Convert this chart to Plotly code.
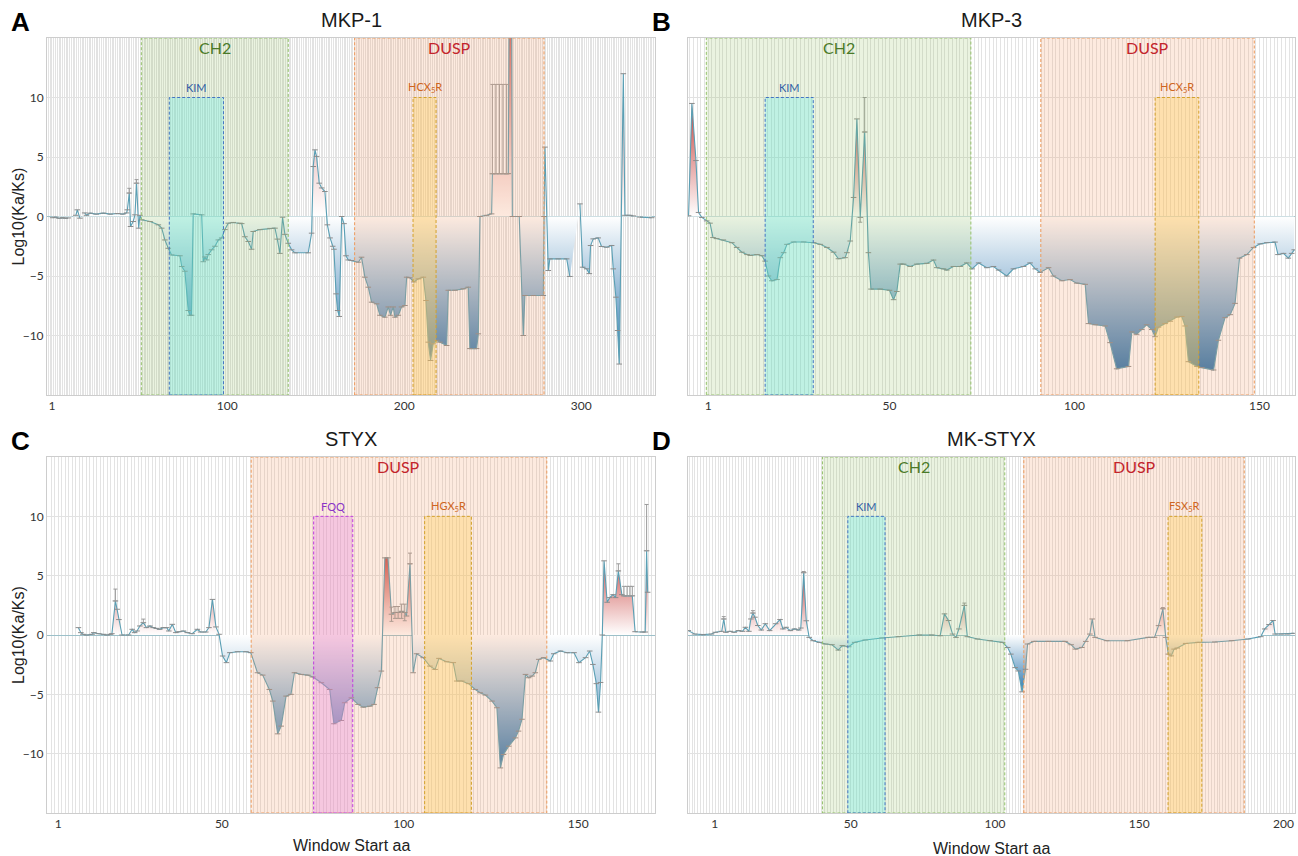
import plotly.graph_objects as go

# ---------------- data (window start position, log10(Ka/Ks)) ----------------
MKP1 = [(1.4,-0.1),(3,-0.05),(5,-0.15),(7,-0.1),(8.5,-0.15),(10.2,-0.12),(None,None),
        (14.5,0.1),(15.3,0.56),(16.8,-0.14),(None,None),
        (19.5,0.3),(20.5,0.1),(22.5,0.28),(26,0.2),(30,0.28),(34,0.2),(38,0.25),(41,0.2),(43.2,0.3),
        (43.6,0.56),(44.7,1.97),(45.4,-0.84),(46.9,-0.42),(47.9,0.14),(48.8,2.8),(50,-0.98),(50.7,0.1),
        (51.7,-0.28),(56.4,-0.42),(61.1,-0.7),(63,-0.98),(64.8,-1.97),(66.7,-2.67),(68.6,-3.23),(73.3,-3.3),
        (74.3,-4.2),(76.1,-4.6),(78,-7.9),(79,-8.3),(79.9,-8.3),(80.8,0.22),(85.6,0.14),(86.5,-3.8),
        (87.4,-3.4),(88.4,-3.65),(89.3,-3.2),(91.2,-2.8),(93.1,-2.5),(95,-1.97),(96.9,-1.8),(98.7,-1.1),
        (100.6,-0.56),(103.4,-0.5),(107.2,-0.56),(108.2,-0.6),(110,-1.7),(111.9,-2.1),(113.8,-2.75),
        (114.7,-1.26),(118.5,-1.1),(124.2,-1.0),(127,-0.98),(128.3,-1.9),(129.8,-3.1),(131.3,-0.06),
        (132.6,-1.5),(134.5,-2.25),(136.4,-2.8),(138.3,-3.05),(145.8,-3.05),(147.7,-1.4),(148.6,4.2),
        (149.6,5.6),(150.5,5.05),(152,2.8),(153.4,2.4),(155.2,2.1),(156.6,-0.7),(158.1,-1.8),(159.6,-2.5),
        (160.3,-2.75),(161.5,-6.5),(162.4,-7.9),(163.3,-8.4),(164.7,0),(166,-0.6),(167.1,-3.3),(168.4,-3.65),
        (170.3,-3.7),(174.1,-3.84),(175.9,-3.42),(177.8,-5.1),(179.7,-5.94),(181.6,-7.2),(184.4,-7.34),
        (186.3,-8.3),(189.1,-8.46),(191,-7.6),(192.3,-8.3),(193.8,-7.6),(194.8,-8.46),(196.7,-8.3),
        (198.5,-7.6),(200.4,-7.48),(201.4,-5.1),(203.2,-5.15),(205.5,-5.5),(208,-5.24),(210.8,-5.1),
        (212.3,-7.06),(213.6,-10.56),(214.9,-12.1),(216.4,-10.7),(218.3,-10.4),(220.2,-10.56),(224,-10.84),
        (224.9,-6.2),(228.7,-6.2),(233.4,-6.08),(236.2,-5.94),(237.1,-11.1),(240.9,-11.1),(241.9,-9.86),
        (242.8,0),(246.6,0.1),(249.4,0.22),(249.8,3.59),(252,3.6),(254,3.6),(256,3.6),(257.9,3.59),
        (258.8,3.6),(259.4,20),(260.6,20),(261.1,0),(265,0),(267.3,-10),(268.2,-6.64),(273,-6.64),
        (278.6,-6.64),(279,0),(279.5,5.83),(281.4,-4.54),(282.3,-3.56),(287,-3.56),(291.8,-3.56),
        (293.6,-5.04),(None,None),
        (299.3,1.06),(300.8,-4.26),(303.1,-4.4),(304.6,-4.8),(305.3,-2.44),(306.8,-1.88),(309.6,-1.8),
        (311.5,-2.52),(314.4,-2.58),(317.2,-2.44),(318.1,-4.4),(319.6,-6.78),(320.6,-9.58),(321.5,-12.4),
        (323.8,12.0),(324.7,0.1),(327.5,0.1),(329.4,0.05),(None,None),(333.2,-0.05),(339.8,-0.1)]

MKP3 = [(-4.3,0.06),(-3.4,9.5),(-2.3,4.7),(-1.6,0.34),(-0.7,-0.08),(0.6,-0.37),(1.5,-0.56),(2.3,-1.77),
        (3.3,-1.86),(5.1,-1.97),(7.4,-2.2),(8.7,-2.6),(10.1,-3.0),(11.5,-3.2),(12.4,-3.27),(14.2,-3.2),
        (15.5,-3.3),(16.4,-3.75),(17.3,-5.0),(18.2,-5.4),(19.6,-5.3),(20.5,-3.46),(21.4,-3.04),(22.3,-2.34),
        (24.1,-2.14),(26.8,-2.14),(29.5,-2.2),(31.3,-2.34),(33.1,-2.6),(34.9,-3.0),(36.2,-3.55),(38,-3.46),
        (38.5,-3.04),(39.4,-2.06),(40.3,1.6),(41.2,8.2),(42.1,-0.08),(43.3,7.1),(44.3,-3.04),(45,-6.1),
        (47.5,-6.1),(50,-6.2),(51.1,-6.99),(52,-6.3),(52.9,-4.0),(53.8,-4.0),(55.6,-4.2),(57.4,-4.0),
        (60.1,-3.94),(61.9,-3.66),(62.8,-4.3),(64.6,-4.4),(65.5,-4.5),(67.3,-4.2),(69.1,-4.2),(70.9,-3.9),
        (72.3,-4.4),(74.1,-3.9),(76.3,-4.3),(78.1,-4.2),(79.5,-4.5),(81.7,-5.0),(83.5,-4.4),(86.2,-4.2),
        (88,-3.9),(89.4,-4.4),(90.7,-4.7),(93,-4.3),(94.3,-5.0),(96.6,-5.4),(98.8,-5.3),(100.6,-5.6),
        (102.9,-5.7),(103.8,-9.0),(105.6,-9.1),(108.3,-9.2),(109.6,-10.6),(111.4,-12.8),(114.6,-12.6),
        (115.5,-9.7),(116.8,-9.9),(118.2,-9.5),(119.5,-9.1),(120.9,-9.5),(121.8,-10.1),(122.7,-9.3),
        (124.5,-9.0),(125.9,-8.8),(127.7,-8.45),(129,-8.4),(129.9,-9.2),(130.8,-12.2),(133.1,-12.6),
        (134.4,-12.7),(137.6,-12.9),(138.9,-10.4),(140.7,-8.5),(142.1,-8.25),(143.4,-7.3),(144.6,-3.5),
        (146.6,-3.2),(148.4,-2.6),(150.2,-2.3),(152,-2.2),(154.2,-2.15),(155,-3.2),(156.5,-3.1),
        (157.8,-3.5),(158.7,-3.1),(159.4,-2.8)]

STYX = [(6.8,0.62),(7.5,0.2),(8.1,0.06),(9.2,0.0),(10.7,0.06),(11.2,0.2),(12.6,0.11),(14,0.06),(15,0.0),
        (16,0.06),(16.4,0.11),(17.4,2.87),(17.9,2.17),(18.4,1.3),(19.3,0.0),(21.2,0.0),(22.2,0.48),
        (22.9,0.2),(23.6,0.34),(24.4,0.76),(25.4,1.04),(26.3,0.62),(27.3,0.76),(28.2,0.62),(29.2,0.56),
        (30.1,0.48),(31.1,0.62),(32.1,0.62),(32.7,0.34),(33.7,0.9),(34.7,0.2),(35.6,0.28),(36.9,0.34),
        (38,0.2),(39.4,0.11),(40.9,0.48),(41.8,0.25),(43.3,0.25),(44.2,0.62),(45.2,3.0),(46.2,0.68),
        (47.1,0.06),(48.1,-1.77),(49.2,-2.33),(50.2,-1.49),(52.4,-1.41),(54.8,-1.41),(56.2,-1.49),
        (58.1,-3.18),(59.6,-3.38),(61.5,-4.59),(62.5,-5.57),(63.9,-8.33),(64.9,-7.68),(66.3,-5.15),
        (67.7,-5.0),(68.7,-3.18),(70.6,-3.32),(72.5,-3.38),(74,-3.54),(76.4,-4.02),(78.8,-4.59),(80,-7.48),
        (82.1,-7.2),(83.1,-5.71),(85,-5.29),(86.9,-5.85),(88.4,-6.08),(90.3,-6.0),(91.5,-5.85),(92.5,-4.44),
        (93.6,-3.04),(94.6,6.5),(95.5,6.5),(96.5,1.75),(97.5,1.9),(98.4,1.9),(99.4,2.0),(100.3,1.9),
        (100.8,1.6),(101.8,6.0),(102.7,-3.18),(103.7,-1.58),(105.6,-1.91),(107.5,-2.62),(109,-2.9),
        (110.1,-1.97),(112.3,-2.25),(114.2,-2.33),(115.2,-3.88),(116.6,-3.88),(118.6,-4.1),(120.5,-4.59),
        (121.9,-4.87),(123.4,-5.06),(125.3,-5.57),(126.7,-6.13),(127.7,-11.2),(128.6,-10.07),(130.1,-9.37),
        (132,-8.67),(132.9,-8.1),(133.9,-7.1),(134.9,-3.32),(135.8,-3.6),(136.8,-3.46),(137.7,-3.18),
        (138.7,-2.05),(140.1,-1.91),(142,-2.19),(143,-1.58),(144.9,-1.35),(146.8,-1.49),(148.8,-1.49),
        (150.2,-2.33),(152.1,-1.91),(153.3,-1.35),(154.2,-2.48),(155.2,-4.1),(155.8,-6.5),(156.4,-4.0),
        (156.9,0.0),(157.4,6.25),(158.3,2.76),(159,3.15),(160,3.4),(160.7,3.15),(161.5,5.4),(162.5,3.4),
        (163.1,3.3),(165.5,3.3),(166.3,0.28),(168.4,0.25),(169.2,0.25),(169.6,7.1),(169.9,3.6)]

MKSTYX = [(-6.3,0.37),(-4.1,0.08),(-1.2,0.03),(1.7,0.08),(3.1,0.23),(5.3,0.31),(6.0,1.35),(6.7,0.23),
          (8.2,0.31),(9.6,0.23),(11.1,0.37),(12.5,0.31),(13.5,0.65),(14.7,0.31),(15.4,1.35),(16.1,1.85),
          (16.8,1.5),(17.8,0.8),(19,0.42),(20.4,0.95),(21.9,0.37),(24,0.95),(25.5,1.3),(26.5,0.51),
          (27.6,0.65),(29.1,0.37),(30.5,0.51),(32,0.42),(32.7,0.59),(33.7,5.25),(34.6,1.2),(35.6,-0.2),
          (37,-0.48),(39.2,-0.62),(41.3,-0.76),(43.5,-0.82),(45.7,-1.27),(47.1,-0.9),(49.3,-0.99),
          (51.4,-0.62),(55,-0.42),(60.8,-0.25),(66.6,-0.14),(73.8,0.0),(78.1,0.0),(81,-0.06),(82.5,1.78),
          (83.9,1.22),(85.3,0.08),(86.5,-0.2),(87.5,0.51),(89.4,2.49),(90.4,-0.14),(94,-0.34),(98.3,-0.48),
          (102.6,-0.62),(104.4,-1.05),(105.5,-1.61),(107,-2.75),(108.1,-3.03),(109.4,-4.79),(110.6,-2.89),
          (111.3,-0.76),(113.5,-0.54),(118.5,-0.54),(124.3,-0.54),(126.4,-0.82),(127.9,-1.19),(130.1,-1.05),
          (131.5,-0.54),(132.9,0.08),(133.7,1.35),(134.7,-0.2),(138.7,-0.48),(145.9,-0.48),(153.1,-0.2),
          (155.3,-0.2),(156.7,0.79),(158.2,2.21),(159.2,-0.2),(160.1,-1.61),(161.1,-1.76),(162.1,-1.19),
          (163.2,-1.1),(166.1,-0.71),(170.4,-0.62),(176.2,-0.59),(182,-0.48),(187.7,-0.34),(192.1,-0.14),
          (193.5,0.51),(195,0.88),(196.4,1.22),(197.1,0.08),(199.3,0.08),(201.4,0.08),(203.6,0.14)]

# error bars: (position, value, plus, minus)
MKP1_ERR = [(249.8,3.6,7.5,0),(251.8,3.6,7.5,0),(253.8,3.6,7.5,0),(255.8,3.6,7.5,0),(257.9,3.6,7.5,0),
            (44.7,1.97,0.4,0),(48.8,2.8,0.3,0)]
MKP3_ERR = [(43.3,7.1,2.9,0),(42.1,-0.08,0,0.4)]
STYX_ERR = [(17.4,2.87,1.0,0),(96.5,1.75,0.6,0.6),(97.5,1.9,0.5,0.5),(98.4,1.9,0.5,0.5),(99.4,2.0,0.6,0.6),
            (100.3,1.9,0.7,0.7),(101.8,6.0,0.9,0),(161.5,5.4,0.6,0),(163.1,3.3,0.8,0),(164,3.3,0.8,0),
            (164.8,3.3,0.8,0),(165.5,3.3,0.8,0),(169.6,7.1,3.9,0),(25.4,1.04,0.3,0)]
MKSTYX_ERR = [(6.0,1.35,0.2,0),(16.1,1.85,0.2,0),(33.7,5.25,0.1,0),(89.4,2.49,0.2,0),(158.2,2.21,0.1,0)]

# domain regions: (label, kind, start, end)
MKP1_REG = [("CH2","CH2",51.5,134.5),("KIM","KIM",67.3,97.9),("DUSP","DUSP",172,279),("HCX<sub>5</sub>R","MOTIF",205,218)]
MKP3_REG = [("CH2","CH2",0.5,72),("KIM","KIM",16.4,29.4),("DUSP","DUSP",90.9,148.6),("HCX<sub>5</sub>R","MOTIF",121.8,133.6)]
STYX_REG = [("DUSP","DUSP",56.3,141),("FQQ","FQQ",74.2,85.4),("HGX<sub>5</sub>R","MOTIF",106,119.4)]
MKSTYX_REG = [("CH2","CH2",40.2,103.4),("KIM","KIM",49,61.9),("DUSP","DUSP",110,186.4),("FSX<sub>5</sub>R","MOTIF",160,171.7)]

# tick labels
MKP1_TICKS = ([1,100,200,300], ["1","100","200","300"])
MKP3_TICKS = ([1,50,100,150], ["1","50","100","150"])
STYX_TICKS = ([1,47.9,100,150], ["1","50","100","150"])
MKSTYX_TICKS = ([2.9,50,100,150,200], ["1","50","100","150","200"])
Y_TICKS = [-10,-5,0,5,10]

# ---------------- styling ----------------
W, H = 1298, 856
STYLE = {
    "CH2":  dict(fill="rgba(150,195,100,0.20)", line="#93c26a", text="#4a7a28", size=16, tall=True),
    "DUSP": dict(fill="rgba(245,155,105,0.21)", line="#ee9a5c", text="#c3242b", size=16, tall=True),
    "KIM":  dict(fill="rgba(70,235,235,0.26)",  line="#4274c4", text="#2f5ea6", size=11, tall=False),
    "MOTIF":dict(fill="rgba(255,205,80,0.34)",  line="#d4a22a", text="#cf6520", size=11, tall=False),
    "FQQ":  dict(fill="rgba(230,120,225,0.30)", line="#c03ce0", text="#8a34c8", size=11, tall=False),
}
BLUE, WHITE, RED = "#2f78b0", "#ffffff", "#c8403c"
panels = [
    dict(letter="A", title="MKP-1", data=MKP1, err=MKP1_ERR, reg=MKP1_REG, ticks=MKP1_TICKS,
         xr=[-1.8, 341.7], px=(47, 655), py=(38, 395), ylab=True, xtitle=None),
    dict(letter="B", title="MKP-3", data=MKP3, err=MKP3_ERR, reg=MKP3_REG, ticks=MKP3_TICKS,
         xr=[-4.45, 159.6], px=(688, 1295), py=(38, 395), ylab=False, xtitle=None),
    dict(letter="C", title="STYX", data=STYX, err=STYX_ERR, reg=STYX_REG, ticks=STYX_TICKS,
         xr=[-2.2, 172.0], px=(47, 655), py=(457, 813), ylab=True, xtitle=845),
    dict(letter="D", title="MK-STYX", data=MKSTYX, err=MKSTYX_ERR, reg=MKSTYX_REG, ticks=MKSTYX_TICKS,
         xr=[-6.4, 204], px=(688, 1295), py=(457, 813), ylab=False, xtitle=848),
]

fig = go.Figure()
shapes, annos = [], []
for i, p in enumerate(panels):
    n = "" if i == 0 else str(i + 1)
    xa, ya = "x" + n, "y" + n
    xs = [d[0] for d in p["data"]]
    ys = [d[1] for d in p["data"]]
    vals = [v for v in ys if v is not None]
    lo, hi = min(vals), max(vals)
    f0 = (0 - lo) / (hi - lo)
    fig.add_trace(go.Scatter(
        x=xs, y=ys, xaxis=xa, yaxis=ya, mode="lines+markers", fill="tozeroy", connectgaps=False,
        fillgradient=dict(type="vertical", start=lo, stop=hi,
                          colorscale=[[0, BLUE], [f0, WHITE], [1, RED]]),
        line=dict(color="#5a9fb4", width=1.1),
        marker=dict(symbol="line-ew", size=4, line=dict(width=1, color="#8c8c8c")),
        showlegend=False, hoverinfo="skip"))
    fig.add_trace(go.Scatter(
        x=[e[0] for e in p["err"]], y=[e[1] for e in p["err"]], xaxis=xa, yaxis=ya, mode="markers",
        marker=dict(size=1, color="rgba(0,0,0,0)"),
        error_y=dict(type="data", symmetric=False, array=[e[2] for e in p["err"]],
                     arrayminus=[e[3] for e in p["err"]], color="#9a9a9a", thickness=1, width=2),
        showlegend=False, hoverinfo="skip"))

    x0, x1 = p["px"]; y0, y1 = p["py"]
    fig.layout["xaxis" + n] = dict(
        domain=[x0 / W, x1 / W], anchor=ya, range=p["xr"], tickmode="array",
        tickvals=p["ticks"][0], ticktext=p["ticks"][1], showgrid=False, zeroline=False,
        showline=True, mirror=True, linecolor="#cdcdcd", linewidth=1, ticks="",
        tickfont=dict(family="Lato", size=12, color="#333"),
        minor=dict(tickmode="linear", tick0=0, dtick=1, showgrid=True, gridcolor="#e3e3e3", gridwidth=1, ticks=""))
    fig.layout["yaxis" + n] = dict(
        domain=[1 - y1 / H, 1 - y0 / H], anchor=xa, range=[-15, 15], tickmode="array",
        tickvals=Y_TICKS, showticklabels=p["ylab"], showgrid=True, gridcolor="#e2e2e2",
        zeroline=True, zerolinecolor="#9cc0c9", zerolinewidth=1,
        showline=True, mirror=True, linecolor="#cdcdcd", linewidth=1, ticks="",
        tickfont=dict(family="Lato", size=12, color="#333"))

    for (lab, kind, a, b) in p["reg"]:
        st = STYLE[kind]
        top = 15 if st["tall"] else 10
        shapes.append(dict(type="rect", xref=xa, yref=ya, x0=a, x1=b, y0=-15, y1=top, layer="above",
                           fillcolor=st["fill"], line=dict(color=st["line"], width=1, dash="3px,2px")))
        annos.append(dict(xref=xa, yref=ya, x=(a + b) / 2, y=14.2 if st["tall"] else 10.8, text=lab,
                          showarrow=False, xanchor="center", yanchor="middle",
                          font=dict(family="Lato", size=st["size"], color=st["text"])))

    cx = (x0 + x1) / 2
    annos.append(dict(xref="paper", yref="paper", x=cx / W, y=1 - (y0 - 18) / H, text=p["title"],
                      showarrow=False, xanchor="center", yanchor="middle",
                      font=dict(family="Liberation Sans", size=20, color="#1a1a1a")))
    annos.append(dict(xref="paper", yref="paper", x=(x0 - 27) / W, y=1 - (y0 - 16) / H,
                      text="<b>%s</b>" % p["letter"], showarrow=False, xanchor="center", yanchor="middle",
                      font=dict(family="Liberation Sans", size=26, color="#000")))
    if p["ylab"]:
        annos.append(dict(xref="paper", yref="paper", x=18 / W, y=1 - ((y0 + y1) / 2) / H,
                          text="Log10(Ka/Ks)", textangle=-90, showarrow=False,
                          xanchor="center", yanchor="middle",
                          font=dict(family="Liberation Sans", size=16, color="#222")))
    if p["xtitle"]:
        annos.append(dict(xref="paper", yref="paper", x=cx / W, y=1 - p["xtitle"] / H,
                          text="Window Start aa", showarrow=False, xanchor="center", yanchor="middle",
                          font=dict(family="Liberation Sans", size=16, color="#222")))

fig.update_layout(width=W, height=H, margin=dict(l=0, r=0, t=0, b=0),
                  paper_bgcolor="white", plot_bgcolor="white",
                  shapes=shapes, annotations=annos)
fig.write_html("out.html")
